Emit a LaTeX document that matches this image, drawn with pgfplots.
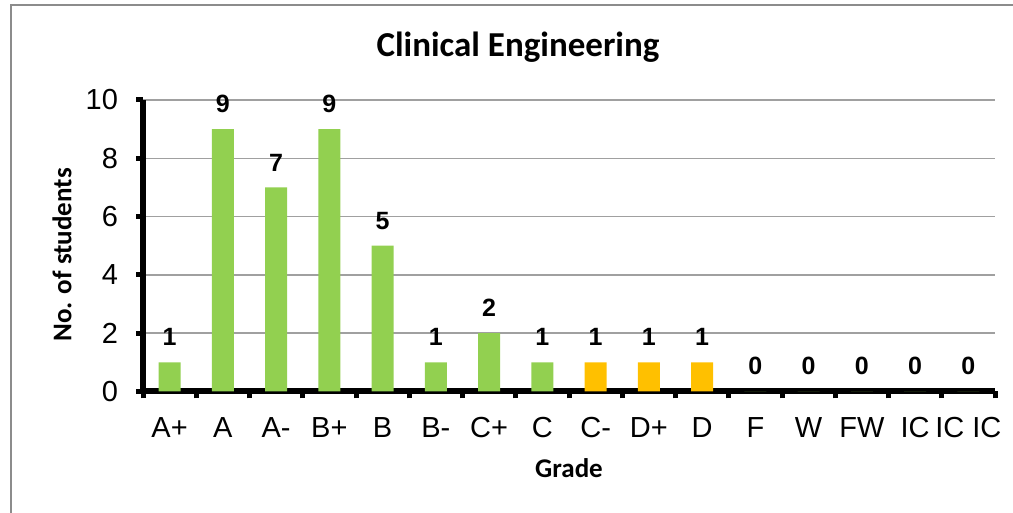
\documentclass[border=0pt]{standalone}
\usepackage{fontspec}
\setmainfont{Liberation Sans}
\newfontfamily\carlito{Carlito}
\usepackage{pgfplots}
\pgfplotsset{compat=1.18}
\definecolor{grn}{HTML}{92D050}
\definecolor{org}{HTML}{FFC000}
\definecolor{frm}{HTML}{8C8C8C}
\definecolor{grd}{HTML}{A0A0A0}
\begin{document}
\begin{tikzpicture}
\useasboundingbox (0,0) rectangle (506.5pt,256.5pt);
\draw[frm, line width=1pt] (5.5pt,-5pt) -- (5.5pt,254pt) -- (515pt,254pt);
\begin{axis}[
  at={(71.5pt,60.75pt)}, anchor=south west,
  scale only axis, width=426pt, height=145.75pt,
  xmin=0.5, xmax=16.5, ymin=0, ymax=10,
  ytick={0,2,...,10},
  xtick={1,...,16},
  xticklabels={A+,A,A-,B+,B,B-,C+,C,C-,D+,D,F,W,FW,IC,IC IC},
  minor xtick={0.5,1.5,...,16.5},
  axis x line*=bottom, axis y line*=left,
  axis line style={line width=3pt, black, -},
  ymajorgrids, grid style={grd, line width=0.7pt},
  tick align=outside,
  major tick length=3.5pt, minor tick length=3.5pt,
  major x tick style={draw=none},
  minor x tick style={draw=black, line width=2.5pt},
  ytick style={draw=black, line width=2.5pt},
  /pgf/number format/assume math mode=true,
  ticklabel style={font=\fontsize{14.5}{16}\selectfont},
  yticklabel style={xshift=-5.5pt},
  xticklabel style={yshift=-6pt},
  ybar, bar width=11pt, bar shift=0pt,
  nodes near coords,
  every node near coord/.append style={anchor=south, inner sep=0pt, yshift=8pt, font=\fontsize{12.5}{14}\selectfont\bfseries, black},
]
\addplot[fill=grn, draw=none] coordinates {(1,1) (2,9) (3,7) (4,9) (5,5) (6,1) (7,2) (8,1) (12,0) (13,0) (14,0) (15,0) (16,0)};
\addplot[fill=org, draw=none] coordinates {(9,1) (10,1) (11,1)};
\end{axis}
\node[font=\carlito\bfseries\fontsize{17.5}{20}\selectfont] at (259pt,233pt) {Clinical Engineering};
\node[font=\carlito\bfseries\fontsize{13.5}{16}\selectfont] at (284.5pt,22.5pt) {Grade};
\node[font=\carlito\bfseries\fontsize{13.5}{16}\selectfont, rotate=90] at (31pt,129pt) {No. of students};
\end{tikzpicture}
\end{document}
